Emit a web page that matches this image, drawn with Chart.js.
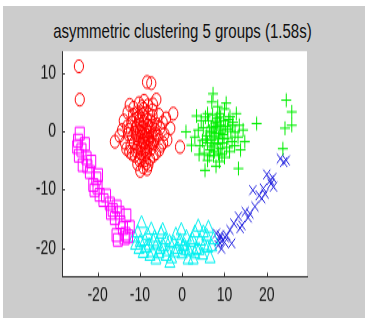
<!DOCTYPE html>
<html>
<head>
<meta charset="utf-8">
<script src="https://cdn.jsdelivr.net/npm/chart.js@4"></script>
<style>
  html, body { margin: 0; padding: 0; background: #fff; overflow: hidden; }
  #panel { position: absolute; left: 3px; top: 6px; width: 362px; height: 312px; background: #cccccc; }
  #title { position: absolute; left: 0; top: 20px; width: 365px; text-align: center;
           font: 15px/15px "Liberation Sans", Arial, sans-serif; color: #111;
           transform: scaleY(1.38); transform-origin: 50% 0; }
  /* the source picture is stretched vertically, so the canvas is too */
  #myChart { position: absolute; left: 0; top: 0; width: 371px !important; height: 323px !important; }
</style>
</head>
<body>
<div id="panel"></div>
<div id="title">asymmetric clustering 5 groups (1.58s)</div>
<canvas id="myChart" width="371" height="234"></canvas>
<script>
// cluster data
var redX = [-24.4,-24.2,-8.3,-7.3,-6.1,-15.9,-0.5,-2.1,-2.8,-3.5,
  -9.2,-8.5,-10.1,-7.6,-11.2,-12.5,-13.5,-14.2,-13.8,-12.9,
  -11.5,-10.2,-9.0,-8.1,-7.0,-5.5,-4.6,-4.2,-5.0,-6.2,
  -9.0,-9.5,-8.4,-10.3,-8.0,-9.8,-11.0,-7.2,-10.6,-8.8,
  -7.5,-11.8,-6.5,-12.0,-9.3,-8.6,-10.8,-6.8,-12.8,-5.8,
  -9.6,-8.2,-10.0,-7.8,-11.4,-9.1,-7.0,-12.2,-6.0,-10.5,
  -8.9,-9.7,-7.3,-11.0,-13.0,-5.2,-8.0,-10.0,-6.6,-9.4,
  -8.7,-10.9,-7.7,-11.6,-9.9,-8.3,-4.5,-3.8,-14.8,-12.4,
  -6.9,-5.4,-13.2,-9.0,-8.1,-10.2,-9.3,-8.6,-10.4,-7.9,
  -9.1,-10.7,-8.3,-11.3,-7.4,-9.8,-8.4,-10.1,-6.3,-12.6,
  -7.1,-9.5,-11.9,-6.8,-8.0,-10.6];
var redY = [11.1,5.4,8.4,8.2,5.4,-1.8,-2.7,3.0,0.5,-1.5,
  -6.2,-5.5,-5.0,-4.8,-4.2,-3.5,-2.0,0.2,1.8,3.2,
  4.0,4.8,5.2,4.4,3.6,2.8,1.5,-0.5,-2.5,-3.8,
  -1.0,-0.2,0.3,-1.5,-2.0,1.2,0.5,-0.8,-2.8,-3.2,
  1.8,-1.0,0.2,1.5,2.8,-4.0,2.2,-2.2,-0.5,-0.8,
  -2.4,1.0,0.0,-1.4,-2.0,3.8,2.6,-2.6,1.2,3.2,
  -5.0,-3.8,-3.0,-3.3,0.8,0.5,3.0,-4.5,-1.5,0.6,
  -0.6,-0.6,0.6,2.8,-6.8,-6.5,-2.0,2.2,-0.8,4.5,
  4.6,-3.2,-3.0,-2.0,-1.2,1.8,-1.6,-2.6,-0.8,-0.2,
  1.6,0.9,2.0,-0.2,-1.9,-3.0,-3.6,2.5,-0.4,0.2,
  1.0,4.2,-3.9,-4.2,-5.8,-5.6];

var greenX = [0.9,7.3,7.0,8.4,10.0,6.0,11.3,12.0,13.5,14.4,
  4.5,3.8,3.0,4.2,5.2,6.0,7.4,8.8,10.0,11.2,
  12.4,13.2,14.8,5.4,13.3,17.6,24.6,25.9,25.9,24.3,
  23.8,8.0,7.5,8.6,9.2,6.8,7.8,9.5,6.5,10.2,
  8.2,9.0,7.0,5.8,10.8,11.5,6.2,8.8,7.6,9.8,
  5.0,12.5,11.0,4.8,7.2,8.4,9.6,6.6,10.5,8.0,
  7.0,9.0,6.0,11.8,5.5,12.8,9.4,4.0,3.4,13.8,
  2.2,10.4,8.0,7.7,8.9,6.9,9.9,8.3,7.3,10.7,
  5.6,9.1,6.4,8.6,11.9];
var greenY = [-0.1,6.4,5.0,4.2,3.8,3.0,2.5,1.5,1.0,0.2,
  1.8,0.2,-1.0,-2.5,-3.8,-5.0,-4.2,-5.2,-4.5,-3.5,
  -2.5,-1.0,-1.8,-6.7,-6.4,1.3,5.3,3.3,1.0,0.5,
  -3.0,-0.4,0.5,-1.2,0.2,-1.5,1.4,-2.0,0.0,0.8,
  2.2,-3.0,-2.6,-0.8,-1.2,0.0,1.8,3.0,-3.5,1.8,
  0.6,-0.2,2.0,-1.6,2.8,-2.2,-0.6,-3.2,-2.8,0.8,
  -0.2,1.0,-2.0,-1.8,2.4,3.0,-4.0,-4.0,2.6,-3.2,
  -2.4,4.8,-6.0,-0.9,-0.3,0.7,-1.3,1.6,-2.0,0.4,
  -1.4,2.4,-4.2,-3.8,1.0];

var magentaX = [-24.2,-24.6,-24.8,-23.8,-24.4,-23.5,-22.6,-21.5,-21.8,-19.9,
  -20.3,-21.0,-20.7,-19.5,-20.0,-18.6,-17.1,-15.5,-16.4,-15.9,
  -13.2,-14.6,-14.0,-15.5,-12.4,-13.4,-16.8,-18.0,-22.4,-23.0,
  -14.8,-12.8,-15.2,-13.6];
var magentaY = [-0.4,-1.6,-2.7,-3.2,-4.2,-5.8,-4.6,-5.2,-7.0,-7.5,
  -8.1,-9.2,-10.1,-10.9,-9.6,-11.8,-12.4,-12.9,-13.5,-14.9,
  -14.4,-15.6,-16.6,-17.8,-16.4,-17.6,-14.0,-11.0,-6.0,-2.2,
  -14.0,-18.0,-18.6,-18.3];

var cyanX = [-11.3,-11.0,-10.5,-9.6,-9.2,-8.8,-8.2,-7.3,-7.8,-7.0,
  -6.5,-6.0,-5.5,-5.0,-4.4,-4.0,-3.5,-2.9,-2.5,-2.0,
  -1.5,-1.0,-0.5,0.0,0.5,1.0,1.6,2.0,2.6,3.0,
  3.8,3.4,4.2,4.8,5.2,5.8,6.2,6.6,7.0,7.4,
  -9.9,-8.5,-6.8,-5.2,-3.0,-1.8,0.8,2.4,4.0,6.0,
  -10.2,-7.6,-4.6,-0.2,1.4,5.0,-3.8,3.0,-6.2,0.2];
var cyanY = [-18.2,-19.5,-17.4,-15.8,-20.9,-18.8,-17.8,-16.9,-19.6,-20.8,
  -18.2,-19.4,-21.0,-17.6,-19.8,-18.6,-20.6,-22.6,-21.8,-19.2,
  -17.8,-20.2,-18.8,-21.0,-19.6,-18.2,-20.6,-19.0,-22.0,-17.4,
  -16.4,-20.2,-18.8,-21.2,-19.6,-18.0,-16.6,-21.8,-19.8,-18.6,
  -19.0,-20.0,-18.9,-20.2,-19.0,-20.8,-20.4,-18.6,-20.4,-20.0,
  -20.2,-21.4,-17.0,-17.0,-22.0,-17.4,-21.4,-21.0,-22.0,-19.8];

var blueX = [23.2,24.6,24.0,20.0,20.8,21.6,16.7,19.6,18.8,17.2,
  16.0,14.9,13.3,14.1,13.7,11.3,10.5,11.7,8.9,8.5,
  9.3,8.1,19.2,21.0,15.6,12.2,10.0,9.6,18.2,21.4,
  9.0,8.6,10.2];
var blueY = [-4.7,-5.0,-5.3,-7.4,-8.4,-9.5,-10.1,-10.7,-11.5,-12.9,
  -14.1,-13.8,-14.6,-16.1,-16.6,-16.9,-17.8,-19.2,-18.3,-19.5,
  -20.1,-17.5,-9.8,-9.0,-14.8,-15.8,-19.0,-18.6,-11.0,-8.0,
  -17.8,-18.8,-18.2];

var xTicks = [-20, -10, 0, 10, 20];
var yTicks = [-20, -10, 0, 10];

function pts(xs, ys) {
  return xs.map(function (x, i) { return { x: x, y: ys[i] }; });
}

function cluster(xs, ys, color, style, r) {
  return {
    data: pts(xs, ys),
    pointStyle: style,
    pointRadius: r,
    borderColor: color,
    backgroundColor: 'rgba(0,0,0,0)',
    pointBorderWidth: 1
  };
}

var plotBg = {
  id: 'plotBg',
  beforeDraw: function (chart) {
    var a = chart.chartArea, c = chart.ctx;
    c.save();
    c.fillStyle = '#ffffff';
    c.fillRect(a.left, a.top, a.right - a.left, a.bottom - a.top);
    c.restore();
  },
  afterDraw: function (chart) {
    // matlab style ticks pointing inward
    var a = chart.chartArea, c = chart.ctx;
    c.save();
    c.strokeStyle = '#333';
    c.lineWidth = 1;
    c.beginPath();
    chart.scales.x.ticks.forEach(function (t) {
      var px = Math.round(chart.scales.x.getPixelForValue(t.value)) + 0.5;
      c.moveTo(px, a.bottom);
      c.lineTo(px, a.bottom - 2.5);
    });
    chart.scales.y.ticks.forEach(function (t) {
      var py = Math.round(chart.scales.y.getPixelForValue(t.value)) + 0.5;
      c.moveTo(a.left, py);
      c.lineTo(a.left + 3, py);
    });
    c.stroke();
    c.restore();
  }
};

var ctx = document.getElementById('myChart');

var myChart = new Chart(ctx, {
  type: 'scatter',
  data: {
    datasets: [
      cluster(redX, redY, '#ff0000', 'circle', 4.6),
      cluster(greenX, greenY, '#00ee00', 'cross', 5),
      cluster(magentaX, magentaY, '#ff00ff', 'rect', 6.4),
      cluster(cyanX, cyanY, '#00f0f0', 'triangle', 5.8),
      cluster(blueX, blueY, '#2020e0', 'crossRot', 5)
    ]
  },
  options: {
    responsive: false,
    animation: false,
    events: [],
    layout: { padding: { left: 0, right: 64, top: 37, bottom: 0 } },
    plugins: {
      legend: { display: false },
      tooltip: { enabled: false }
    },
    scales: {
      x: {
        type: 'linear',
        min: -28.4,
        max: 29.5,
        afterBuildTicks: function (s) { s.ticks = xTicks.map(function (v) { return { value: v }; }); },
        afterFit: function (s) { s.height = 34; },
        grid: { drawOnChartArea: false, drawTicks: false },
        border: { display: true, color: '#333', width: 1 },
        ticks: { padding: 6, color: '#111', font: { family: 'Liberation Sans', size: 14 } }
      },
      y: {
        type: 'linear',
        min: -24.8,
        max: 13.7,
        afterBuildTicks: function (s) { s.ticks = yTicks.map(function (v) { return { value: v }; }); },
        afterFit: function (s) { s.width = 62; },
        grid: { drawOnChartArea: false, drawTicks: false },
        border: { display: true, color: '#333', width: 1 },
        ticks: { padding: 6, color: '#111', font: { family: 'Liberation Sans', size: 14 } }
      }
    }
  },
  plugins: [plotBg]
});
</script>
</body>
</html>
